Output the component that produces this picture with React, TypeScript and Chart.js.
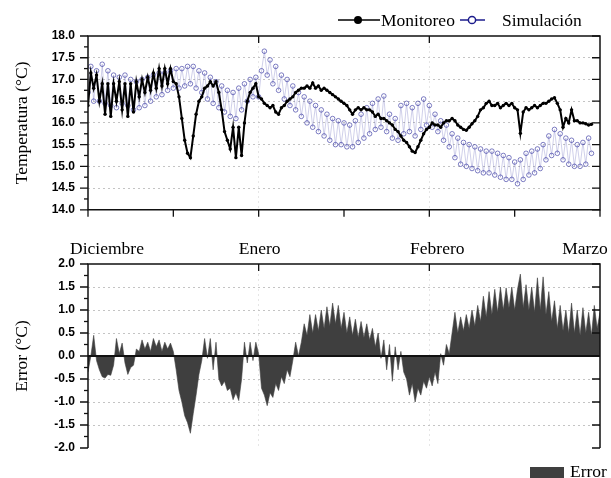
import React, { useEffect, useRef } from 'react';
import { Chart, registerables } from 'chart.js';

Chart.register(...registerables);

// ---- data (one sample every half day, day 0 = 1 Dec) ----
const STEP_DAYS = 0.5;
const monthLabels = ['Diciembre', 'Enero', 'Febrero', 'Marzo'];
const monthDays = [0, 30, 60, 90];
const xTickDays = [0, 15, 30, 45, 60, 75, 90];
const legendTop = ['Monitoreo', 'Simulación'];
const legendBottom = 'Error';

const monitoreo = [
  16.4, 17.15, 16.8, 17.1, 16.5, 16.9, 16.2, 16.9, 16.15, 16.9,
  16.5, 16.95, 16.3, 16.9, 16.15, 16.9, 16.25, 16.95, 16.6, 17.0,
  16.7, 17.05, 16.75, 17.15, 16.8, 17.25, 16.85, 17.25, 16.9, 17.25,
  16.95, 16.9, 16.6, 16.1, 15.6, 15.3, 15.2, 15.7, 16.2, 16.5,
  16.6, 16.8, 16.85, 16.95, 16.85, 16.95, 16.7, 16.3, 15.8, 15.6,
  15.4, 15.9, 15.2, 15.9, 15.25, 16.0, 16.5, 16.7, 16.8, 16.9,
  16.6, 16.55, 16.45, 16.4, 16.35, 16.4, 16.25, 16.2, 16.35, 16.4,
  16.5, 16.55, 16.6, 16.7, 16.75, 16.8, 16.8, 16.85, 16.8, 16.92,
  16.8, 16.85, 16.75, 16.8, 16.75, 16.7, 16.65, 16.6, 16.55, 16.5,
  16.45, 16.4, 16.3, 16.2, 16.3, 16.35, 16.3, 16.35, 16.3, 16.3,
  16.25, 16.15, 16.2, 16.1, 16.1, 16.05, 16.0, 15.95, 15.85, 15.8,
  15.7, 15.6, 15.55, 15.45, 15.35, 15.32, 15.45, 15.6, 15.75, 15.85,
  15.9, 16.0, 15.95, 15.95, 15.9, 16.0, 16.05, 16.05, 16.1, 16.05,
  15.95, 15.9, 15.85, 15.83, 15.9, 15.98, 16.05, 16.15, 16.3, 16.35,
  16.45, 16.5, 16.4, 16.4, 16.45, 16.35, 16.4, 16.45, 16.4, 16.45,
  16.35, 16.3, 15.76, 16.25, 16.35, 16.3, 16.35, 16.4, 16.35, 16.4,
  16.45, 16.45, 16.5, 16.55, 16.58, 16.45, 16.3, 15.9, 16.1, 16.0,
  16.3, 16.05, 16.05, 16.0, 16.0, 15.98, 15.95, 15.97,
];

const simulacion = [
  16.7, 17.3, 16.5, 17.2, 16.5, 17.35, 16.45, 17.2, 16.4, 17.1,
  16.35, 17.05, 16.45, 17.1, 16.4, 17.0, 16.3, 16.95, 16.35, 17.0,
  16.4, 17.05, 16.5, 17.1, 16.6, 17.15, 16.65, 17.15, 16.75, 17.2,
  16.8, 17.25, 16.8, 17.25, 16.85, 17.3, 16.9, 17.3, 16.8, 17.2,
  16.7, 17.15, 16.55, 17.05, 16.45, 16.95, 16.35, 16.85, 16.25, 16.75,
  16.15, 16.7, 16.1, 16.8, 16.3, 16.9, 16.5, 17.0, 16.6, 17.05,
  16.6, 17.2, 17.65, 17.1, 17.45, 16.9, 17.3, 16.75, 17.1, 16.55,
  17.0, 16.4, 16.85, 16.3, 16.7, 16.15, 16.6, 16.0, 16.5, 15.9,
  16.4, 15.8, 16.3, 15.7, 16.2, 15.6, 16.1, 15.5, 16.05, 15.5,
  16.0, 15.45, 15.95, 15.45, 16.05, 15.55, 16.2, 15.65, 16.35, 15.75,
  16.45, 15.85, 16.55, 15.9, 16.62, 15.8, 16.2, 15.65, 16.1, 15.6,
  16.4, 15.75, 16.45, 15.8, 16.35, 15.7, 16.45, 15.85, 16.55, 15.95,
  16.4, 15.9, 16.2, 15.8, 16.05, 15.6, 15.95, 15.45, 15.75, 15.2,
  15.65, 15.05, 15.55, 15.0, 15.5, 14.95, 15.45, 14.9, 15.4, 14.85,
  15.35, 14.85, 15.35, 14.8, 15.3, 14.75, 15.25, 14.7, 15.2, 14.7,
  15.1, 14.6, 15.15, 14.7, 15.3, 14.8, 15.35, 14.85, 15.4, 14.95,
  15.5, 15.15, 15.7, 15.25, 15.85, 15.3, 15.75, 15.15, 15.65, 15.05,
  15.6, 15.0, 15.5, 15.0, 15.55, 15.05, 15.65, 15.3,
];

const errorSerie = [
  -0.35, 0.0, 0.45, -0.1, -0.3, -0.45, -0.48, -0.4, -0.42, -0.2,
  0.38, 0.05, 0.28, -0.15, -0.4, -0.25, -0.2, 0.15, 0.1, 0.35,
  0.15, 0.3, 0.1, 0.38, 0.2, 0.35, 0.1, 0.3, 0.15, 0.28,
  0.1, -0.3, -0.75, -1.0, -1.3, -1.45, -1.68, -1.25, -0.85, -0.4,
  -0.1, 0.38, -0.05, 0.38, -0.3, 0.3, -0.5, -0.65, -0.55, -0.75,
  -0.7, -0.95, -0.8, -0.97, -0.5, 0.3, -0.15, 0.3, -0.1, 0.3,
  0.05, -0.7, -0.85, -1.08, -0.8, -0.9, -0.6, -0.75, -0.45, -0.6,
  -0.3, -0.45, -0.1, 0.3, 0.0, 0.3, 0.7, 0.45, 0.9, 0.5,
  0.9, 0.55, 1.0, 0.6, 1.07, 0.65, 1.15, 0.7, 1.1, 0.6,
  0.95, 0.5, 0.85, 0.45, 0.8, 0.4, 0.75, 0.4, 0.7, 0.35,
  0.6, 0.2, 0.5, -0.05, 0.35, -0.3, 0.25, -0.55, 0.2, -0.3,
  0.1, -0.35, -0.5, -0.85, -0.6, -1.0, -0.7, -0.85, -0.55, -0.7,
  -0.45, -0.65, -0.35, -0.6, 0.05, -0.2, 0.25, 0.05, 0.5, 0.95,
  0.5, 0.85, 0.55, 0.9, 0.6, 1.0, 0.65, 1.1, 0.75, 1.3,
  0.85, 1.4, 0.9, 1.45, 0.95, 1.5, 1.0, 1.48, 1.05, 1.5,
  1.0, 1.45, 1.78, 1.05, 1.55, 1.0, 1.5, 0.95, 1.7, 1.0,
  1.72, 0.9, 1.4, 0.75, 1.2, 0.6, 1.1, 0.55, 1.0, 0.5,
  1.15, 0.5, 1.0, 0.45, 1.05, 0.5, 0.95, 0.45, 1.1, 0.6,
  0.95,
];

// ---- styling ----
const SERIF = '"Liberation Serif", "Times New Roman", serif';
const SANS = '"Liberation Sans", Arial, sans-serif';
const W = 611;
const TOP_H = 230;
const BOT_TOP = 230;
const BOT_H = 248;
const monthLabelShift = [19, 1, 8, -15];

const pts = (arr: number[]) => arr.map((y, i) => ({ x: i * STEP_DAYS, y }));

function makeFrame(kind: 'top' | 'bottom') {
  return {
    id: 'frame_' + kind,
    afterDatasetsDraw(chart: any) {
      const { ctx, chartArea: a, scales } = chart;
      const x = scales.x;
      const y = scales.y;
      ctx.save();
      ctx.strokeStyle = '#111';
      ctx.lineCap = 'butt';
      if (kind === 'bottom') {
        const z = y.getPixelForValue(0);
        ctx.lineWidth = 2;
        ctx.beginPath();
        ctx.moveTo(a.left, z);
        ctx.lineTo(a.right, z);
        ctx.stroke();
      }
      ctx.lineWidth = 1.5;
      ctx.beginPath();
      if (kind === 'top') {
        ctx.rect(a.left, a.top, a.right - a.left, a.bottom - a.top);
      } else {
        ctx.moveTo(a.left, a.bottom);
        ctx.lineTo(a.left, a.top);
        ctx.lineTo(a.right, a.top);
        ctx.lineTo(a.right, a.bottom);
      }
      ctx.stroke();
      ctx.lineWidth = 1.3;
      const n = Math.round((y.max - y.min) / 0.25);
      for (let i = 0; i <= n; i++) {
        const v = y.min + i * 0.25;
        const py = y.getPixelForValue(v);
        const major = i % 2 === 0;
        ctx.beginPath();
        ctx.moveTo(a.left - (major ? 8 : 4), py);
        ctx.lineTo(a.left, py);
        if (major) {
          ctx.moveTo(a.right - 8, py);
          ctx.lineTo(a.right, py);
        }
        ctx.stroke();
      }
      monthDays.slice(1, -1).forEach((d) => {
        const px = x.getPixelForValue(d);
        ctx.beginPath();
        ctx.moveTo(px, a.top);
        ctx.lineTo(px, a.top + 7);
        ctx.stroke();
      });
      if (kind === 'top') {
        xTickDays.forEach((d) => {
          const px = x.getPixelForValue(d);
          ctx.beginPath();
          ctx.moveTo(px, a.bottom);
          ctx.lineTo(px, a.bottom + 7);
          ctx.stroke();
        });
      }
      ctx.restore();
    },
  };
}

const topLegendPlugin = {
  id: 'topLegend',
  afterDraw(chart: any) {
    const { ctx } = chart;
    ctx.save();
    const ly = 20;
    ctx.lineWidth = 1.5;
    ctx.strokeStyle = '#000';
    ctx.beginPath();
    ctx.moveTo(338, ly);
    ctx.lineTo(380, ly);
    ctx.stroke();
    ctx.fillStyle = '#000';
    ctx.beginPath();
    ctx.arc(358, ly, 4, 0, Math.PI * 2);
    ctx.fill();
    ctx.strokeStyle = '#1c1c8c';
    ctx.beginPath();
    ctx.moveTo(460, ly);
    ctx.lineTo(485, ly);
    ctx.stroke();
    ctx.fillStyle = '#fff';
    ctx.beginPath();
    ctx.arc(472, ly, 3.6, 0, Math.PI * 2);
    ctx.fill();
    ctx.stroke();
    ctx.fillStyle = '#000';
    ctx.font = `17.5px ${SERIF}`;
    ctx.textBaseline = 'alphabetic';
    ctx.textAlign = 'left';
    ctx.fillText(legendTop[0], 381, 26);
    ctx.fillText(legendTop[1], 502, 26);
    ctx.restore();
  },
};

const bottomTextPlugin = {
  id: 'bottomText',
  afterDraw(chart: any) {
    const { ctx, scales } = chart;
    const x = scales.x;
    ctx.save();
    ctx.fillStyle = '#000';
    ctx.font = `17.5px ${SERIF}`;
    ctx.textAlign = 'center';
    ctx.textBaseline = 'alphabetic';
    monthLabels.forEach((lab, i) => {
      ctx.fillText(lab, x.getPixelForValue(monthDays[i]) + monthLabelShift[i], 24);
    });
    ctx.fillStyle = '#3f3f3f';
    ctx.fillRect(530, 237, 34, 12);
    ctx.fillStyle = '#000';
    ctx.textAlign = 'left';
    ctx.fillText(legendBottom, 570, 247);
    ctx.restore();
  },
};

function yScale(min: number, max: number, title: string) {
  return {
    type: 'linear',
    min,
    max,
    afterFit: (s: any) => {
      s.width = 88;
    },
    ticks: {
      stepSize: 0.5,
      padding: 13,
      color: '#000',
      font: { family: SANS, size: 12, weight: 'bold' },
      callback: (v: number) => Number(v).toFixed(1),
    },
    grid: {
      drawTicks: false,
      lineWidth: 1,
      color: (c: any) => {
        const v = c.tick ? c.tick.value : 0;
        if (Math.abs(v - min) < 1e-6 || Math.abs(v - max) < 1e-6) return 'rgba(0,0,0,0)';
        return '#c4c4c4';
      },
    },
    border: { display: false, dash: [2, 3] },
    title: {
      display: true,
      text: title,
      color: '#000',
      font: { family: SERIF, size: 17.5, weight: 'normal' },
      padding: { top: 12, bottom: 0 },
    },
  };
}

function xScale(h: number) {
  return {
    type: 'linear',
    min: 0,
    max: 90,
    afterFit: (s: any) => {
      s.height = h;
    },
    ticks: { display: false, stepSize: 15 },
    grid: {
      drawTicks: false,
      color: (c: any) => {
        const v = c.tick ? c.tick.value : 0;
        return v === 30 || v === 60 ? '#e6e6e6' : 'rgba(0,0,0,0)';
      },
    },
    border: { display: false, dash: [2, 3] },
  };
}

export default function App() {
  const topRef = useRef<HTMLCanvasElement>(null);
  const botRef = useRef<HTMLCanvasElement>(null);

  useEffect(() => {
    document.body.style.margin = '0';
    const top = new Chart(topRef.current as HTMLCanvasElement, {
      type: 'line',
      data: {
        datasets: [
          {
            label: legendTop[0],
            data: pts(monitoreo),
            borderColor: '#000',
            borderWidth: 2,
            pointRadius: 1.7,
            pointBackgroundColor: '#000',
            pointBorderWidth: 0,
            tension: 0,
          },
          {
            label: legendTop[1],
            data: pts(simulacion),
            borderColor: 'rgba(60,60,170,0.35)',
            borderWidth: 0.7,
            pointRadius: 2.3,
            pointBorderColor: 'rgba(40,40,155,0.75)',
            pointBorderWidth: 0.8,
            pointBackgroundColor: 'rgba(0,0,0,0)',
            tension: 0,
          },
        ],
      },
      options: {
        responsive: false,
        animation: false,
        layout: { padding: { top: 36, right: 11, left: 0, bottom: 0 } },
        plugins: { legend: { display: false }, tooltip: { enabled: false } },
        scales: {
          x: xScale(TOP_H - 222),
          y: yScale(14, 18, 'Temperatura (°C)'),
        },
      } as any,
      plugins: [makeFrame('top'), topLegendPlugin],
    });

    const bot = new Chart(botRef.current as HTMLCanvasElement, {
      type: 'line',
      data: {
        datasets: [
          {
            label: legendBottom,
            data: pts(errorSerie),
            borderColor: '#3f3f3f',
            backgroundColor: '#3f3f3f',
            borderWidth: 0.6,
            pointRadius: 0,
            fill: 'origin',
            tension: 0,
          },
        ],
      },
      options: {
        responsive: false,
        animation: false,
        layout: { padding: { top: 34, right: 11, left: 0, bottom: 0 } },
        plugins: { legend: { display: false }, tooltip: { enabled: false } },
        scales: {
          x: xScale(30),
          y: yScale(-2, 2, 'Error (°C)'),
        },
      } as any,
      plugins: [makeFrame('bottom'), bottomTextPlugin],
    });

    return () => {
      top.destroy();
      bot.destroy();
    };
  }, []);

  return (
    <div style={{ position: 'relative', width: W, height: 478, background: '#fff' }}>
      <canvas
        ref={botRef}
        width={W}
        height={BOT_H}
        style={{ position: 'absolute', left: 0, top: BOT_TOP, width: W, height: BOT_H }}
      />
      <canvas
        ref={topRef}
        width={W}
        height={TOP_H}
        style={{ position: 'absolute', left: 0, top: 0, width: W, height: TOP_H }}
      />
    </div>
  );
}
